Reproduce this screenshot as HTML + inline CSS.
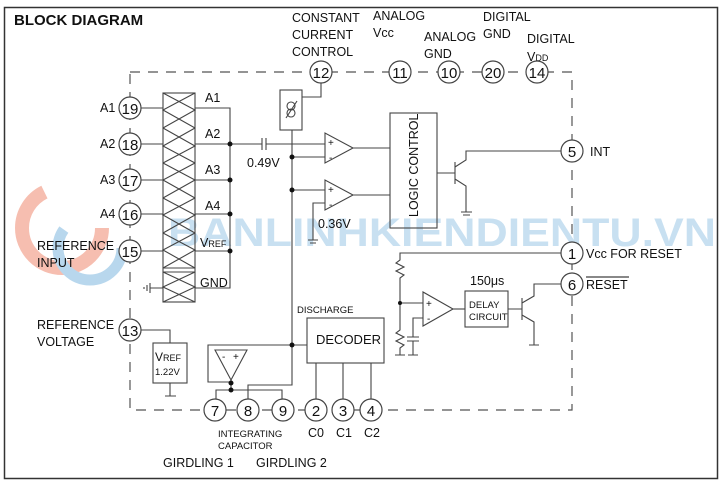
<!DOCTYPE html>
<html><head><meta charset="utf-8"><style>
body{margin:0;background:#fff;}
svg{display:block;font-family:"Liberation Sans",Arial,sans-serif;}
text{fill:#111;}
</style></head><body>
<svg width="722" height="484" viewBox="0 0 722 484" xmlns="http://www.w3.org/2000/svg">
<rect x="0" y="0" width="722" height="484" fill="#fff"/>
<rect x="4.5" y="7.5" width="713" height="471" fill="none" stroke="#333" stroke-width="1.5"/>
<text x="14" y="25" font-size="15" font-weight="bold">BLOCK DIAGRAM</text>

<!-- watermark -->
<g opacity="0.55">
<circle cx="62" cy="228" r="40" fill="none" stroke="#f08a70" stroke-width="14" stroke-dasharray="170 100"/>
<circle cx="90" cy="248" r="32" fill="none" stroke="#7fb8e0" stroke-width="11" stroke-dasharray="120 90"/>
<text x="168" y="246" font-size="40" font-weight="bold" style="fill:#9cc8e6" textLength="548" lengthAdjust="spacingAndGlyphs">BANLINHKIENDIENTU.VN</text>
</g>

<g stroke="#555" stroke-width="1.2" fill="none">
<path d="M130 72 H572 V410 H130 Z" stroke-dasharray="10 8"/>
</g>

<g font-size="12.5">
<text x="292" y="22">CONSTANT</text><text x="292" y="39">CURRENT</text><text x="292" y="56">CONTROL</text>
<text x="373" y="20">ANALOG</text><text x="373" y="37">Vcc</text>
<text x="424" y="41">ANALOG</text><text x="424" y="58">GND</text>
<text x="483" y="21">DIGITAL</text><text x="483" y="38">GND</text>
<text x="527" y="43">DIGITAL</text><text x="527" y="61">V<tspan font-size="9">DD</tspan></text>
</g>

<g fill="#fff" stroke="#444" stroke-width="1.2">
<circle cx="321" cy="72" r="11"/><circle cx="400" cy="72" r="11"/><circle cx="449" cy="72" r="11"/><circle cx="493" cy="72" r="11"/><circle cx="537" cy="72" r="11"/>
<circle cx="130" cy="108" r="11"/><circle cx="130" cy="144" r="11"/><circle cx="130" cy="180" r="11"/><circle cx="130" cy="214" r="11"/><circle cx="130" cy="251" r="11"/><circle cx="130" cy="330" r="11"/>
<circle cx="572" cy="151" r="11"/><circle cx="572" cy="253" r="11"/><circle cx="572" cy="284" r="11"/>
<circle cx="215" cy="410" r="11"/><circle cx="248" cy="410" r="11"/><circle cx="283" cy="410" r="11"/><circle cx="316" cy="410" r="11"/><circle cx="343" cy="410" r="11"/><circle cx="371" cy="410" r="11"/>
</g>
<g font-size="15" text-anchor="middle">
<text x="321" y="78">12</text><text x="400" y="78">11</text><text x="449" y="78">10</text><text x="493" y="78">20</text><text x="537" y="78">14</text>
<text x="130" y="114">19</text><text x="130" y="150">18</text><text x="130" y="186">17</text><text x="130" y="220">16</text><text x="130" y="257">15</text><text x="130" y="336">13</text>
<text x="572" y="157">5</text><text x="572" y="259">1</text><text x="572" y="290">6</text>
<text x="215" y="416">7</text><text x="248" y="416">8</text><text x="283" y="416">9</text><text x="316" y="416">2</text><text x="343" y="416">3</text><text x="371" y="416">4</text>
</g>
<g font-size="12.5">
<text x="100" y="112">A1</text><text x="100" y="148">A2</text><text x="100" y="184">A3</text><text x="100" y="218">A4</text>
<text x="37" y="250">REFERENCE</text><text x="37" y="267">INPUT</text>
<text x="37" y="329">REFERENCE</text><text x="37" y="346">VOLTAGE</text>
<text x="590" y="156">INT</text>
<text x="586" y="258">Vcc FOR RESET</text>
<text x="586" y="289">RESET</text>
<text x="205" y="102">A1</text><text x="205" y="138">A2</text><text x="205" y="174">A3</text><text x="205" y="210">A4</text>
<text x="200" y="247">V<tspan font-size="9">REF</tspan></text><text x="200" y="287">GND</text>
<text x="247" y="167">0.49V</text><text x="318" y="228">0.36V</text>
<text x="316" y="344" font-size="13">DECODER</text>
<text x="470" y="285">150μs</text>
<text x="155" y="361" font-size="12">V<tspan font-size="9">REF</tspan></text>
<text x="308" y="437">C0</text><text x="336" y="437">C1</text><text x="364" y="437">C2</text>
<text x="163" y="467">GIRDLING 1</text><text x="256" y="467">GIRDLING 2</text>
</g>
<g font-size="9.5">
<text x="155" y="375">1.22V</text>
<text x="297" y="313">DISCHARGE</text>
<text x="469" y="308">DELAY</text><text x="469" y="320">CIRCUIT</text>
<text x="218" y="437">INTEGRATING</text><text x="218" y="449">CAPACITOR</text>
</g>
<line x1="586" y1="277" x2="629" y2="277" stroke="#111" stroke-width="1"/>
<text transform="translate(418,217) rotate(-90)" font-size="12.5">LOGIC CONTROL</text>

<g stroke="#444" stroke-width="1.1" fill="none">
<path d="M141 108H163M141 144H163M141 180H163M141 214H163M141 251H163"/>
<rect x="163" y="93" width="32" height="209"/>
<path d="M163 93L195 110L163 128M195 93L163 110L195 128
M163 128L195 146L163 163M195 128L163 146L195 163
M163 163L195 180L163 198M195 163L163 180L195 198
M163 198L195 215L163 233M195 198L163 215L195 233
M163 233L195 250L163 268M195 233L163 250L195 268
M163 272L195 287L163 302M195 272L163 287L195 302"/>
<path d="M163 268H195M163 272H195"/>
<path d="M150 288H163M150 283V293M147 285V291M144 287V289"/>
<path d="M195 108H230V288H195M195 144H230M195 180H230M195 214H230M195 251H230"/>
<path d="M230 144H262M266 144H325M262 138V150M266 138V150"/>
<rect x="280" y="90" width="22" height="40"/>
<circle cx="291" cy="106" r="4"/><circle cx="291" cy="113" r="4"/><path d="M286 118L297 101"/>
<path d="M321 83V97H302"/>
<path d="M292 130V345"/>
<path d="M292 157H325M292 190H325"/>
<path d="M325 133V163L353 148Z"/>
<path d="M325 180V210L353 195Z"/>
<path d="M325 203H313V240M308 240H318M310 243H316"/>
<path d="M353 148H390M353 195H390"/>
<rect x="390" y="113" width="47" height="115"/>
<path d="M437 173H455M455 162V184M455 167L466 160V151H561M455 179L466 186V212M461 212H472M463 215H470"/>
<path d="M561 253H400V260L396 263L404 267L396 271L404 275L400 278V330L396 333L404 337L396 341L404 345L400 348V355M395 355H405"/>
<path d="M400 303H423"/>
<path d="M423 292V326L453 309Z"/>
<path d="M423 318H413V337M407 337H419M407 341H419M413 341V355M408 355H418"/>
<path d="M453 309H465"/>
<rect x="465" y="291" width="43" height="36"/>
<path d="M508 309H522M522 298V320M522 303L534 296V284H561M522 315L534 322V345M529 345H539"/>
<rect x="307" y="318" width="77" height="45"/>
<path d="M316 363V399M343 363V399M371 363V399"/>
<path d="M307 345H208V382H231"/>
<path d="M215 350H247L231 380Z"/>
<path d="M231 380V390H216V399M231 390H282V399"/>
<path d="M248 399V385H292V345"/>
<path d="M141 330H170V343"/>
<rect x="153" y="343" width="34" height="40"/>
<path d="M170 383V396M165 396H176"/>
</g>
<g fill="#111">
<circle cx="230" cy="144" r="2.5"/><circle cx="230" cy="180" r="2.5"/><circle cx="230" cy="214" r="2.5"/><circle cx="230" cy="251" r="2.5"/>
<circle cx="292" cy="157" r="2.5"/><circle cx="292" cy="190" r="2.5"/><circle cx="292" cy="345" r="2.5"/>
<circle cx="231" cy="383" r="2.5"/><circle cx="231" cy="390" r="2.5"/><circle cx="400" cy="303" r="2"/>
</g>
<g font-size="10">
<text x="328" y="146">+</text><text x="329" y="161">-</text>
<text x="328" y="193">+</text><text x="329" y="208">-</text>
<text x="426" y="307">+</text><text x="427" y="322">-</text>
<text x="222" y="360">-</text><text x="233" y="360">+</text>
</g>
</svg>
</body></html>
